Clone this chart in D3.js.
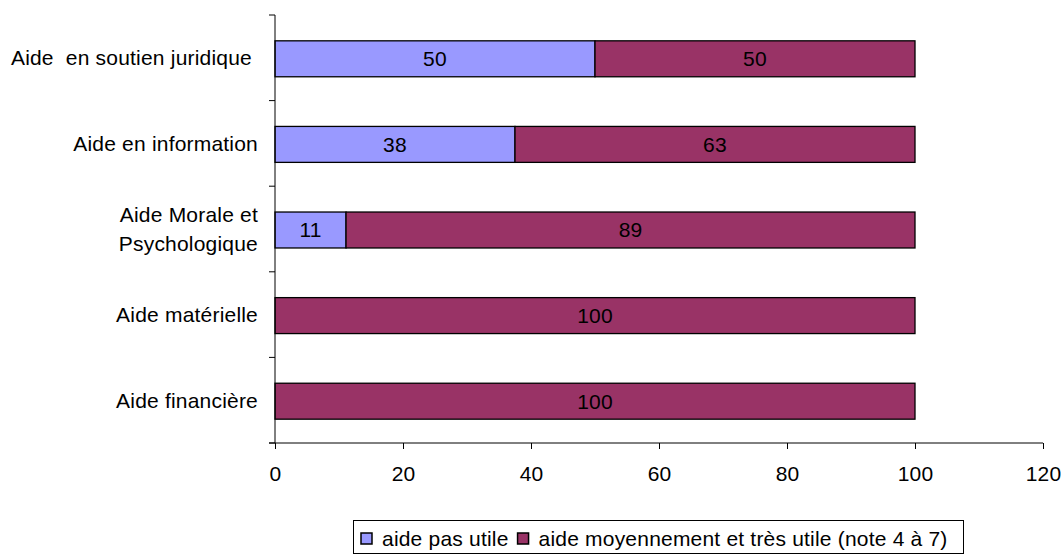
<!DOCTYPE html>
<html><head><meta charset="utf-8">
<script src="https://cdn.jsdelivr.net/npm/d3@7"></script>
<style>
html,body{margin:0;padding:0;background:#fff;}
svg{display:block;font-family:"Liberation Sans",Arial,sans-serif;}
svg text{letter-spacing:0.2px;}
</style></head>
<body>
<svg id="chart" width="1063" height="555"></svg>
<script>
const categories = ["Aide  en soutien juridique ", "Aide en information", "Aide Morale et\nPsychologique", "Aide matérielle", "Aide financière"];
const pasUtile = [50, 37.5, 11.1, 0, 0];
const moyenTres = [50, 62.5, 88.9, 100, 100];
const seriesNames = ["aide pas utile", "aide moyennement et très utile (note 4 à 7)"];
const colors = ["#9999FF", "#993366"];
const xTicks = [0, 20, 40, 60, 80, 100, 120];

(function () {
const FS = 21;
const svg = d3.select("#chart");
const mL = 275, mR = 1043, mT = 15, mB = 443;
const x = d3.scaleLinear().domain([0, 120]).range([mL, mR]);
const y = d3.scaleBand().domain(categories).range([mT, mB]).paddingInner(0.58).paddingOuter(0.29);

const data = categories.map((c, i) => ({cat: c, a: pasUtile[i], b: moyenTres[i]}));
const stack = d3.stack().keys(["a", "b"])(data);

const g = svg.append("g");
stack.forEach((layer, li) => {
  layer.forEach(d => {
    const w = x(d[1]) - x(d[0]);
    if (w <= 0) return;
    g.append("rect")
      .attr("x", x(d[0])).attr("y", y(d.data.cat) + 1)
      .attr("width", w).attr("height", y.bandwidth())
      .attr("fill", colors[li]).attr("stroke", "#000").attr("stroke-width", 1.3);
    g.append("text")
      .attr("x", (x(d[0]) + x(d[1])) / 2)
      .attr("y", y(d.data.cat) + 1 + y.bandwidth() / 2)
      .attr("dy", "0.35em").attr("text-anchor", "middle")
      .attr("font-size", FS).attr("fill", "#000")
      .text(Math.round(d[1] - d[0]));
  });
});

// Y axis
const yAxis = svg.append("g");
yAxis.append("line").attr("x1", mL).attr("x2", mL).attr("y1", mT).attr("y2", mB).attr("stroke", "#000");
const step = (mB - mT) / categories.length;
d3.range(categories.length + 1).forEach(i => {
  yAxis.append("line").attr("x1", mL - 6).attr("x2", mL).attr("y1", mT + i * step).attr("y2", mT + i * step).attr("stroke", "#000");
});
categories.forEach(c => {
  const lines = c.split("\n");
  const cy = y(c) + y.bandwidth() / 2;
  const lh = 29;
  const t = yAxis.append("text").attr("text-anchor", "end").attr("font-size", FS)
    .attr("fill", "#000").style("white-space", "pre");
  lines.forEach((l, k) => {
    t.append("tspan").attr("x", mL - 17)
      .attr("y", cy + (k - (lines.length - 1) / 2) * lh)
      .attr("dy", "0.35em").text(l);
  });
});

// X axis
const xAxis = svg.append("g").attr("transform", `translate(0,${mB})`)
  .call(d3.axisBottom(x).tickValues(xTicks).tickSize(6).tickPadding(17).tickFormat(d3.format("d")));
xAxis.select(".domain").attr("d", `M${mL - 6},0H${mR}`).attr("stroke", "#000");
xAxis.selectAll(".tick line").attr("stroke", "#000");
xAxis.selectAll(".tick text").attr("font-size", FS).attr("fill", "#000")
  .attr("font-family", "Liberation Sans, Arial, sans-serif");

// Legend
const leg = svg.append("g");
leg.append("rect").attr("x", 353.5).attr("y", 520.5).attr("width", 610).attr("height", 33)
  .attr("fill", "#fff").attr("stroke", "#000");
let lx = 361;
seriesNames.forEach((n, i) => {
  leg.append("rect").attr("x", lx).attr("y", 533).attr("width", 11).attr("height", 11)
    .attr("fill", colors[i]).attr("stroke", "#000").attr("stroke-width", 1.5);
  const t = leg.append("text").attr("x", lx + 21).attr("y", 539).attr("dy", "0.35em")
    .attr("font-size", FS).attr("fill", "#000").text(n);
  lx += 21 + t.node().getComputedTextLength() + 9;
});
})();
</script>
</body></html>
